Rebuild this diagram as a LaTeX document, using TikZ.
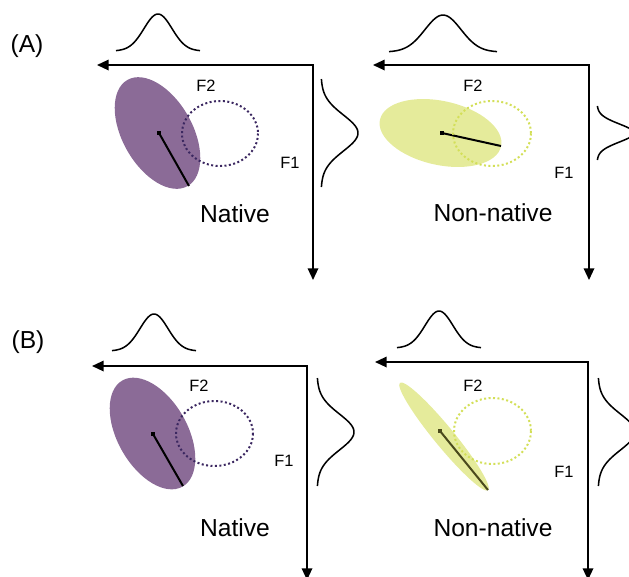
\documentclass[tikz,border=0pt]{standalone}
\usepackage{fontspec}
\setmainfont{Liberation Sans}
\usetikzlibrary{arrows.meta}

\definecolor{natfill}{HTML}{8B6B97}
\definecolor{natdot}{HTML}{3B2760}
\definecolor{nonfill}{HTML}{E5EB9B}
\definecolor{nondot}{HTML}{D3DF58}
\definecolor{nonline}{HTML}{4A4A1C}

\begin{document}
\begin{tikzpicture}[
  x=0.03cm, y=-0.03cm,
  axis/.style={line width=1.4pt, line join=miter,
    {Triangle[length=10pt,width=9pt]}-{Triangle[length=10pt,width=9pt]}},
  gauss/.style={line width=1.3pt},
  vecline/.style={line width=1.7pt},
  cdot/.style={fill, inner sep=0pt, minimum size=4pt},
  natring/.style={draw=natdot, line width=1.7pt, dash pattern=on 1.7pt off 2.1pt},
  nonring/.style={draw=nondot, line width=1.7pt, dash pattern=on 1.7pt off 2.1pt},
  panel/.style={font=\fontsize{21}{25}\selectfont},
  flabel/.style={font=\fontsize{14}{16}\selectfont}
]
\useasboundingbox (0,0) rectangle (629,576);
\clip (0,0) rectangle (629,576);

% panel letters
\node[panel] (lblA) at (27,46) {(A)};
\node[panel] (lblB) at (28,342) {(B)};

% F2 distributions (top, peak up): centre x / baseline y / spread
\foreach \gx/\gy/\gs in {158/51/14, 443/52/18, 154/351/14, 439/348/14}
  \draw[gauss] plot[domain=-3:3, samples=50, smooth]
    ({\gx+\gs*\x}, {\gy-37*exp(-0.5*(\x)*(\x))});
% F1 distributions (right, peak to the right): baseline x / centre y / spread
\foreach \gx/\gy/\gs in {321/133/18, 597/133/9, 317/432/18, 598/432/18}
  \draw[gauss] plot[domain=-3:3, samples=50, smooth]
    ({\gx+37*exp(-0.5*(\x)*(\x))}, {\gy+\gs*\x});

% axes (F2 to the left, F1 downwards)
\coordinate (hA1) at (97,65);  \coordinate (cA1) at (313,65);  \coordinate (vA1) at (313,280);
\coordinate (hA2) at (373,65); \coordinate (cA2) at (589,65);  \coordinate (vA2) at (589,280);
\coordinate (hB1) at (92,366); \coordinate (cB1) at (307,366); \coordinate (vB1) at (307,580);
\coordinate (hB2) at (375,362); \coordinate (cB2) at (588,362); \coordinate (vB2) at (588,580);
\draw[axis] (hA1) -- (cA1) -- (vA1);
\draw[axis] (hA2) -- (cA2) -- (vA2);
\draw[axis] (hB1) -- (cB1) -- (vB1);
\draw[axis] (hB2) -- (cB2) -- (vB2);

% (A) native
\fill[natfill, shift={(157.5,133)}, rotate=-60.5] (0,0) ellipse [x radius=61, y radius=35];
\node[cdot] (mA1) at (159,133) {};
\coordinate (eA1) at (189,186);
\draw[vecline] (mA1.center) -- (eA1);
\draw[natring] (220,133.5) ellipse [x radius=38, y radius=32.5];

% (A) non-native
\fill[nonfill, shift={(440.5,133)}, rotate=-12.4] (0,0) ellipse [x radius=62, y radius=32];
\node[cdot] (mA2) at (442,133) {};
\coordinate (eA2) at (501,146);
\draw[vecline] (mA2.center) -- (eA2);
\draw[nonring] (492,133.5) ellipse [x radius=39, y radius=32.5];

% (B) native
\fill[natfill, shift={(152.5,433.5)}, rotate=-60.5] (0,0) ellipse [x radius=61, y radius=35];
\node[cdot] (mB1) at (153,434) {};
\coordinate (eB1) at (183,486);
\draw[vecline] (mB1.center) -- (eB1);
\draw[natring] (214.5,433.5) ellipse [x radius=38.5, y radius=32.5];

% (B) non-native
\fill[nonfill, shift={(444,436.5)}, rotate=-50.6] (0,0) ellipse [x radius=69.5, y radius=10];
\node[cdot, nonline] (mB2) at (440,431) {};
\coordinate (eB2) at (488,490);
\draw[vecline, nonline] (mB2.center) -- (eB2);
\draw[nonring] (492.5,431) ellipse [x radius=38.5, y radius=33];

% axis labels
\node[flabel] (f2A1) at (206,86) {F2};
\node[flabel] (f1A1) at (290,163) {F1};
\node[flabel] (f2A2) at (473,86) {F2};
\node[flabel] (f1A2) at (564,173) {F1};
\node[flabel] (f2B1) at (199,386) {F2};
\node[flabel] (f1B1) at (284,461) {F1};
\node[flabel] (f2B2) at (473,386) {F2};
\node[flabel] (f1B2) at (564,472) {F1};

% group names
\node[panel] (natA) at (235,214) {Native};
\node[panel] (nonA) at (493,213) {Non-native};
\node[panel] (natB) at (235,528) {Native};
\node[panel] (nonB) at (493,528) {Non-native};
\end{tikzpicture}
\end{document}
